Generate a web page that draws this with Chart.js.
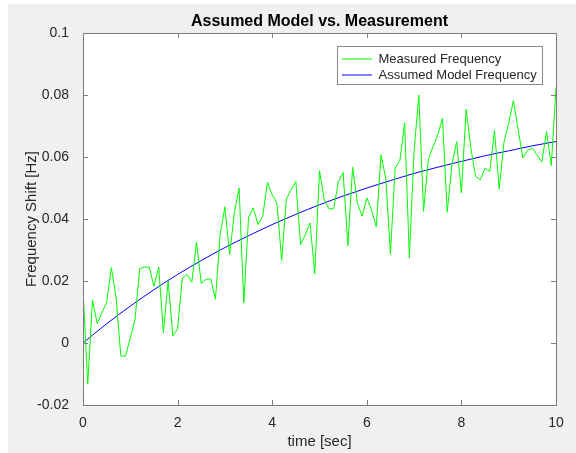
<!DOCTYPE html>
<html>
<head>
<meta charset="utf-8">
<script src="https://cdn.jsdelivr.net/npm/chart.js@4/dist/chart.umd.min.js"></script>
<style>
  html, body { margin: 0; padding: 0; background: #ffffff; }
  canvas { display: block; }
</style>
</head>
<body>
<canvas id="c" width="576" height="453"></canvas>
<script>
// Measured frequency shift, sampled every 0.1 s
const sampleTimes = [
  0.0, 0.1, 0.2, 0.3, 0.4, 0.5, 0.6, 0.7, 0.8, 0.9,
  1.0, 1.1, 1.2, 1.3, 1.4, 1.5, 1.6, 1.7, 1.8, 1.9,
  2.0, 2.1, 2.2, 2.3, 2.4, 2.5, 2.6, 2.7, 2.8, 2.9,
  3.0, 3.1, 3.2, 3.3, 3.4, 3.5, 3.6, 3.7, 3.8, 3.9,
  4.0, 4.1, 4.2, 4.3, 4.4, 4.5, 4.6, 4.7, 4.8, 4.9,
  5.0, 5.1, 5.2, 5.3, 5.4, 5.5, 5.6, 5.7, 5.8, 5.9,
  6.0, 6.1, 6.2, 6.3, 6.4, 6.5, 6.6, 6.7, 6.8, 6.9,
  7.0, 7.1, 7.2, 7.3, 7.4, 7.5, 7.6, 7.7, 7.8, 7.9,
  8.0, 8.1, 8.2, 8.3, 8.4, 8.5, 8.6, 8.7, 8.8, 8.9,
  9.0, 9.1, 9.2, 9.3, 9.4, 9.5, 9.6, 9.7, 9.8, 9.9,
  10.0
];
const measuredFrequency = [
  0.0175, -0.0133, 0.0138, 0.0063, 0.0098, 0.0130, 0.0243, 0.0146, -0.0042, -0.0042,
  0.0017, 0.0076, 0.0240, 0.0245, 0.0245, 0.0183, 0.0245, 0.0033, 0.0200, 0.0023,
  0.0046, 0.0210, 0.0221, 0.0196, 0.0325, 0.0192, 0.0205, 0.0207, 0.0141, 0.0350,
  0.0439, 0.0285, 0.0420, 0.0500, 0.0130, 0.0406, 0.0436, 0.0382, 0.0409, 0.0518,
  0.0478, 0.0452, 0.0267, 0.0465, 0.0494, 0.0521, 0.0317, 0.0349, 0.0387, 0.0223,
  0.0556, 0.0462, 0.0433, 0.0433, 0.0521, 0.0550, 0.0314, 0.0567, 0.0452, 0.0409,
  0.0468, 0.0430, 0.0375, 0.0607, 0.0532, 0.0288, 0.0564, 0.0589, 0.0710, 0.0275,
  0.0620, 0.0800, 0.0425, 0.0591, 0.0634, 0.0671, 0.0725, 0.0422, 0.0575, 0.0650,
  0.0484, 0.0754, 0.0629, 0.0537, 0.0527, 0.0564, 0.0553, 0.0685, 0.0497, 0.0648,
  0.0709, 0.0782, 0.0688, 0.0597, 0.0621, 0.0629, 0.0607, 0.0584, 0.0682, 0.0572,
  0.0825
];

// Assumed model frequency, every 0.5 s
const modelTimes = [0, 0.5, 1, 1.5, 2, 2.5, 3, 3.5, 4, 4.5, 5, 5.5, 6, 6.5, 7, 7.5, 8, 8.5, 9, 9.5, 10];
const modelFrequency = [
  0.0000, 0.0062, 0.0119, 0.0172, 0.0221, 0.0266, 0.0308, 0.0346, 0.0382, 0.0415,
  0.0446, 0.0474, 0.0500, 0.0524, 0.0547, 0.0567, 0.0586, 0.0604, 0.0620, 0.0636,
  0.0650
];

const seriesNames = ['Measured Frequency', 'Assumed Model Frequency'];
const chartTitle = 'Assumed Model vs. Measurement';
const xAxisTitle = 'time [sec]';
const yAxisTitle = 'Frequency Shift [Hz]';

const FONT = 'Liberation Sans, Arial, Helvetica, sans-serif';
const AXIS_GRAY = '#7d7d7d';
const TEXT_DARK = '#262626';

// Figure background, white axes box, inward tick marks and legend frame
const matlabFrame = {
  id: 'matlabFrame',
  afterLayout(chart) {
    const lg = chart.legend;
    if (lg) {
      lg.left = 339;
      lg.top = 49.5;
      lg.right = lg.left + lg.width;
      lg.bottom = lg.top + 100;
    }
  },
  beforeDraw(chart) {
    const ctx = chart.ctx;
    const a = chart.chartArea;
    ctx.save();
    ctx.fillStyle = '#ffffff';
    ctx.fillRect(0, 0, chart.width, chart.height);
    ctx.fillStyle = '#f0f0f0';
    ctx.fillRect(8, 4, chart.width - 8, chart.height - 4);
    ctx.fillStyle = '#ffffff';
    ctx.fillRect(a.left, a.top, a.right - a.left, a.bottom - a.top);
    ctx.restore();
  },
  afterDraw(chart) {
    const ctx = chart.ctx;
    const a = chart.chartArea;
    const xs = chart.scales.x;
    const ys = chart.scales.y;
    const len = 5;
    ctx.save();
    ctx.strokeStyle = AXIS_GRAY;
    ctx.lineWidth = 1;
    ctx.beginPath();
    xs.ticks.forEach(t => {
      const px = Math.round(xs.getPixelForValue(t.value)) + 0.5;
      ctx.moveTo(px, a.bottom);
      ctx.lineTo(px, a.bottom - len);
      ctx.moveTo(px, a.top);
      ctx.lineTo(px, a.top + len);
    });
    ys.ticks.forEach(t => {
      const py = Math.round(ys.getPixelForValue(t.value)) + 0.5;
      ctx.moveTo(a.left, py);
      ctx.lineTo(a.left + len, py);
      ctx.moveTo(a.right, py);
      ctx.lineTo(a.right - len, py);
    });
    ctx.stroke();
    ctx.strokeRect(Math.round(a.left) + 0.5, Math.round(a.top) + 0.5,
      Math.round(a.right - a.left), Math.round(a.bottom - a.top));
    // legend frame
    ctx.strokeStyle = '#8a8a8a';
    ctx.strokeRect(337.5, 46.5, 205, 38);
    ctx.restore();
  }
};

new Chart(document.getElementById('c'), {
  type: 'line',
  data: {
    datasets: [
      {
        label: seriesNames[0],
        data: sampleTimes.map((t, i) => ({ x: t, y: measuredFrequency[i] })),
        borderColor: '#00ff00',
        backgroundColor: '#00ff00',
        borderWidth: 1,
        pointRadius: 0,
        tension: 0,
        fill: false
      },
      {
        label: seriesNames[1],
        data: modelTimes.map((t, i) => ({ x: t, y: modelFrequency[i] })),
        borderColor: '#0000ff',
        backgroundColor: '#0000ff',
        borderWidth: 1,
        pointRadius: 0,
        cubicInterpolationMode: 'monotone',
        fill: false
      }
    ]
  },
  options: {
    responsive: false,
    animation: false,
    devicePixelRatio: 1,
    layout: { padding: { left: 0, right: 20, top: 0, bottom: 0 } },
    plugins: {
      title: {
        display: true,
        text: chartTitle,
        fullSize: false,
        color: '#000000',
        font: { family: FONT, size: 16, weight: 'bold', lineHeight: 1.2 },
        padding: { top: 12, bottom: 1.8 }
      },
      legend: {
        display: true,
        position: 'chartArea',
        align: 'start',
        labels: {
          usePointStyle: true,
          pointStyle: 'line',
          pointStyleWidth: 30,
          padding: 3,
          color: TEXT_DARK,
          font: { family: FONT, size: 13 }
        }
      },
      tooltip: { enabled: false }
    },
    scales: {
      x: {
        type: 'linear',
        min: 0,
        max: 10,
        afterFit(scale) { scale.height = 48; },
        grid: { display: false },
        border: { display: true, color: AXIS_GRAY },
        ticks: {
          stepSize: 2,
          padding: 2,
          maxRotation: 0,
          color: TEXT_DARK,
          font: { family: FONT, size: 14 }
        },
        title: {
          display: true,
          text: xAxisTitle,
          color: TEXT_DARK,
          font: { family: FONT, size: 15, lineHeight: 1.2 },
          padding: { top: 0, bottom: 2.5 }
        }
      },
      y: {
        type: 'linear',
        min: -0.02,
        max: 0.1,
        afterFit(scale) { scale.width = 83; },
        grid: { display: false },
        border: { display: true, color: AXIS_GRAY },
        ticks: {
          stepSize: 0.02,
          padding: 6,
          color: TEXT_DARK,
          font: { family: FONT, size: 14 },
          callback: v => String(+Number(v).toFixed(2))
        },
        title: {
          display: true,
          text: yAxisTitle,
          color: TEXT_DARK,
          font: { family: FONT, size: 15, lineHeight: 1.2 },
          padding: { top: 22.5, bottom: 0 }
        }
      }
    }
  },
  plugins: [matlabFrame]
});
</script>
</body>
</html>
